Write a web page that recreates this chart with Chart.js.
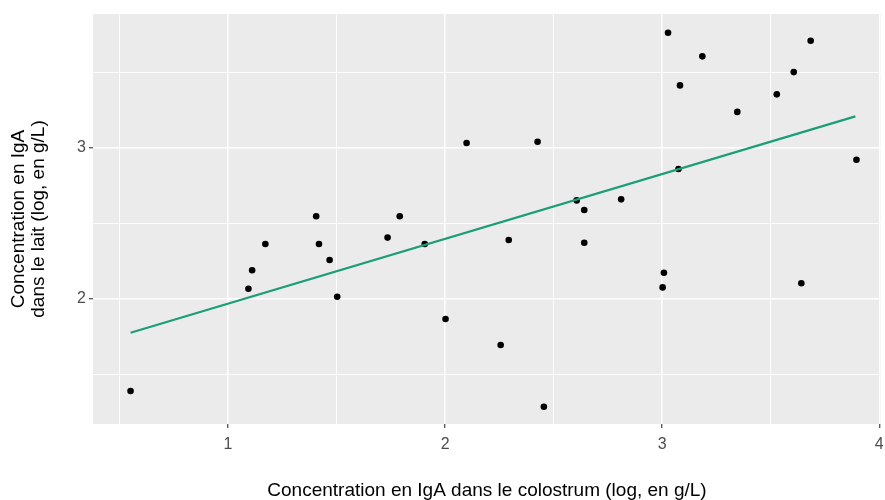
<!DOCTYPE html>
<html>
<head>
<meta charset="utf-8">
<script src="https://cdn.jsdelivr.net/npm/chart.js@4"></script>
<style>
  body { margin: 0; background: #ffffff; }
  #contenedor { width: 885px; height: 500px; }
</style>
</head>
<body>
<div id="contenedor"><canvas id="grafico"></canvas></div>
<script>
// Datos (log de concentración en g/L)
const colostrum = [0.551, 1.094, 1.111, 1.172, 1.406, 1.419, 1.468, 1.503, 1.735, 1.791,
                   1.906, 2.002, 2.099, 2.256, 2.293, 2.426, 2.455, 2.606, 2.641, 2.641,
                   2.811, 3.002, 3.008, 3.027, 3.075, 3.082, 3.185, 3.346, 3.528, 3.606,
                   3.641, 3.684, 3.895];
const lait = [1.392, 2.068, 2.190, 2.364, 2.547, 2.364, 2.258, 2.015, 2.406, 2.547,
              2.364, 1.868, 3.031, 1.696, 2.390, 3.040, 1.288, 2.652, 2.588, 2.372,
              2.659, 2.077, 2.174, 3.760, 2.859, 3.412, 3.604, 3.237, 3.353, 3.500,
              2.104, 3.707, 2.921];

// Droite de régression (extrémités)
const regX = [0.551, 3.890];
const regY = [1.777, 3.207];

// Graduations
const xGrille = [0.5, 1, 1.5, 2, 2.5, 3, 3.5, 4];
const yGrille = [1.5, 2, 2.5, 3, 3.5];

const puntos = colostrum.map((x, i) => ({ x: x, y: lait[i] }));
const linea = regX.map((x, i) => ({ x: x, y: regY[i] }));

// Fondo gris del panel
const fondoPanel = {
    id: 'fondoPanel',
    beforeDraw(chart) {
        const { ctx, chartArea } = chart;
        ctx.save();
        ctx.fillStyle = '#ffffff';
        ctx.fillRect(0, 0, chart.width, chart.height);
        ctx.fillStyle = '#EBEBEB';
        ctx.fillRect(chartArea.left, chartArea.top, chartArea.right - chartArea.left, chartArea.bottom - chartArea.top);
        ctx.restore();
    }
};

const esEntero = v => Math.abs(v - Math.round(v)) < 1e-9;

const ctx = document.getElementById('grafico').getContext('2d');
new Chart(ctx, {
    type: 'scatter',
    data: {
        datasets: [{
            data: linea,
            showLine: true,
            borderColor: '#1B9E77',
            borderWidth: 2.2,
            pointRadius: 0,
            fill: false
        }, {
            data: puntos,
            backgroundColor: '#000000',
            borderColor: '#000000',
            pointRadius: 3.3,
            borderWidth: 0
        }]
    },
    options: {
        responsive: true,
        maintainAspectRatio: false,
        animation: false,
        layout: { padding: { top: 14, right: 1, left: 0, bottom: 0 } },
        plugins: { legend: { display: false }, tooltip: { enabled: false } },
        scales: {
            x: {
                type: 'linear',
                min: 0.378,
                max: 4.008,
                afterBuildTicks: s => { s.ticks = xGrille.map(v => ({ value: v })); },
                afterFit: s => { s.height = 76; s.paddingLeft = 0; s.paddingRight = 0; },
                border: { display: false },
                grid: {
                    color: '#ffffff',
                    lineWidth: c => esEntero(c.tick.value) ? 1.5 : 0.9,
                    tickColor: c => esEntero(c.tick.value) ? '#333333' : 'rgba(0,0,0,0)',
                    tickLength: 4,
                    tickWidth: 1.1
                },
                ticks: {
                    color: '#4D4D4D',
                    padding: 7,
                    maxRotation: 0,
                    autoSkip: false,
                    font: { family: 'Liberation Sans, Arial, sans-serif', size: 16 },
                    callback: v => esEntero(v) ? String(v) : ''
                },
                title: {
                    display: true,
                    text: 'Concentration en IgA dans le colostrum (log, en g/L)',
                    color: '#000000',
                    font: { family: 'Liberation Sans, Arial, sans-serif', size: 19, lineHeight: 1.0 },
                    padding: { top: 0, bottom: 0 }
                }
            },
            y: {
                type: 'linear',
                min: 1.174,
                max: 3.884,
                afterBuildTicks: s => { s.ticks = yGrille.map(v => ({ value: v })); },
                afterFit: s => { s.width = 93; s.paddingTop = 0; s.paddingBottom = 0; },
                border: { display: false },
                grid: {
                    color: '#ffffff',
                    lineWidth: c => esEntero(c.tick.value) ? 1.5 : 0.9,
                    tickColor: c => esEntero(c.tick.value) ? '#333333' : 'rgba(0,0,0,0)',
                    tickLength: 4,
                    tickWidth: 1.1
                },
                ticks: {
                    color: '#4D4D4D',
                    padding: 3,
                    autoSkip: false,
                    font: { family: 'Liberation Sans, Arial, sans-serif', size: 16 },
                    callback: v => esEntero(v) ? String(v) : ''
                },
                title: {
                    display: true,
                    text: ['Concentration en IgA', 'dans le lait (log, en g/L)'],
                    color: '#000000',
                    font: { family: 'Liberation Sans, Arial, sans-serif', size: 19, lineHeight: 1.05 },
                    padding: { top: 8.5, bottom: 0 }
                }
            }
        }
    },
    plugins: [fondoPanel]
});
</script>
</body>
</html>
